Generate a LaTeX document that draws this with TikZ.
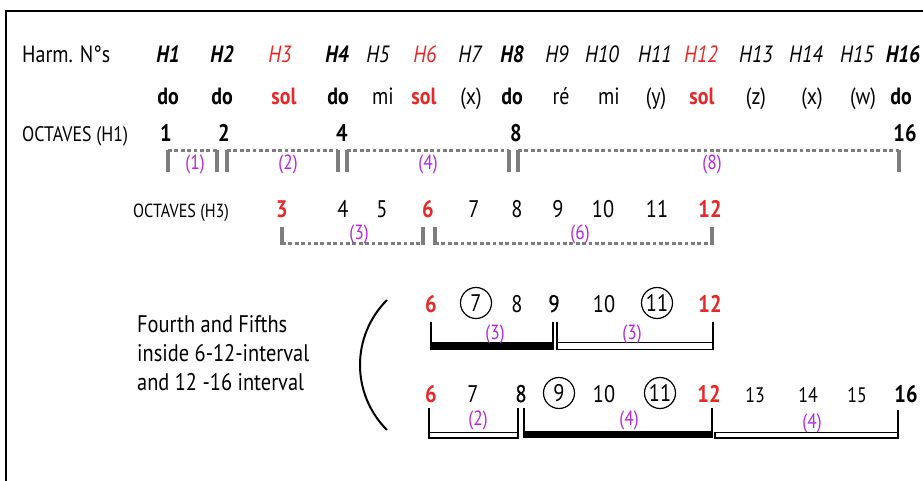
\documentclass[tikz,border=0pt]{standalone}
\usepackage{fontspec}
\setmainfont{PT Sans}[FakeStretch=0.85]
\newfontfamily\medfont{PT Sans}[FakeStretch=0.85,FakeBold=0.8]
\definecolor{hred}{RGB}{232,40,40}
\definecolor{hpurple}{RGB}{180,40,220}
\definecolor{hgray}{RGB}{125,125,125}
\begin{document}
\begin{tikzpicture}[x=1pt,y=-1pt,
  lbl/.style={inner sep=0pt,anchor=base},
  hn/.style={lbl,font=\fontsize{23.5}{28}\selectfont\itshape},
  hnb/.style={lbl,font=\fontsize{23.5}{28}\selectfont\bfseries\itshape},
  hnr/.style={hn,text=hred},
  sy/.style={lbl,font=\fontsize{23.5}{28}\selectfont},
  syb/.style={lbl,font=\fontsize{23.5}{28}\selectfont\bfseries},
  syr/.style={syb,text=hred},
  num/.style={lbl,font=\fontsize{24}{28}\selectfont},
  numb/.style={lbl,font=\fontsize{24}{28}\selectfont\bfseries},
  numr/.style={numb,text=hred},
  numm/.style={lbl,font=\fontsize{24}{28}\selectfont\medfont},
  nums/.style={lbl,font=\fontsize{21}{25}\selectfont},
  iv/.style={lbl,font=\fontsize{20.5}{24}\selectfont,text=hpurple},
  side/.style={inner sep=0pt,anchor=base west},
  circnum/.style={circle,draw,line width=1.2pt,minimum size=31pt,inner sep=0pt,font=\fontsize{24}{28}\selectfont},
  gtick/.style={hgray,line width=3.2pt},
  gdash/.style={hgray,line width=3pt,dash pattern=on 3.8pt off 2.6pt},
  btick/.style={black,line width=2pt},
  bbar/.style={fill=black,draw=none},
  dbar/.style={draw=black,line width=1.7pt,fill=white}
]
\useasboundingbox (0,0) rectangle (923,481);
\fill[white] (0,0) rectangle (923,481);
% frame
\draw[line width=1.6pt] (6,481) -- (6,11) -- (923,11);

% row 1
\node[side,font=\fontsize{23.5}{28}\selectfont] (harm) at (22,63) {Harm. N°s};
\node[hnb] (h1) at (168,63) {H1};
\node[hnb] (h2) at (222,63) {H2};
\node[hnr] (h3) at (280,63) {H3};
\node[hnb] (h4) at (337,63) {H4};
\node[hn]  (h5) at (378,63) {H5};
\node[hnr] (h6) at (425,63) {H6};
\node[hn]  (h7) at (470,63) {H7};
\node[hnb] (h8) at (512,63) {H8};
\node[hn]  (h9) at (557,63) {H9};
\node[hn]  (h10) at (602,63) {H10};
\node[hn]  (h11) at (655,63) {H11};
\node[hnr] (h12) at (701,63) {H12};
\node[hn]  (h13) at (756,63) {H13};
\node[hn]  (h14) at (806,63) {H14};
\node[hn]  (h15) at (857,63) {H15};
\node[hnb] (h16) at (903,63) {H16};

% row 2
\node[syb] (s1) at (168,105) {do};
\node[syb] (s2) at (222,105) {do};
\node[syr] (s3) at (284,105) {sol};
\node[syb] (s4) at (338,105) {do};
\node[sy]  (s5) at (383,105) {mi};
\node[syr] (s6) at (424,105) {sol};
\node[sy]  (s7) at (471,105) {(x)};
\node[syb] (s8) at (512,105) {do};
\node[sy]  (s9) at (561,105) {ré};
\node[sy]  (s10) at (609,105) {mi};
\node[sy]  (s11) at (656,105) {(y)};
\node[syr] (s12) at (702,105) {sol};
\node[sy]  (s13) at (756,105) {(z)};
\node[sy]  (s14) at (812,105) {(x)};
\node[sy]  (s15) at (863,105) {(w)};
\node[syb] (s16) at (901,105) {do};

% row 3
\node[side,font=\fontsize{21}{25}\selectfont] (oct1) at (22,142) {OCTAVES (H1)};
\node[numb] (o1) at (166,142) {1};
\node[numb] (o2) at (224,142) {2};
\node[numb] (o4) at (342,142) {4};
\node[numb] (o8) at (516,142) {8};
\node[numb] (o16) at (905,142) {16};

\foreach \a/\b in {168/217,227/338,347/509,518/899}{
  \draw[gdash] (\a,151) -- (\b,151);
  \draw[gtick] (\a,172) -- (\a,150);
  \draw[gtick] (\b,172) -- (\b,150);
}
\node[iv] (i1) at (195,169.5) {(1)};
\node[iv] (i2) at (288,169.5) {(2)};
\node[iv] (i4) at (428,169.5) {(4)};
\node[iv] (i8) at (712,169.5) {(8)};

% row 4
\node[side,font=\fontsize{19}{22}\selectfont] (oct3) at (133,217) {OCTAVES (H3)};
\node[numr] (p3) at (282,217) {3};
\node[num]  (p4) at (343,217) {4};
\node[num]  (p5) at (382,217) {5};
\node[numr] (p6) at (428,217) {6};
\node[num]  (p7) at (474,217) {7};
\node[num]  (p8) at (517,217) {8};
\node[num]  (p9) at (558,217) {9};
\node[num]  (p10) at (603,217) {10};
\node[num]  (p11) at (657,217) {11};
\node[numr] (p12) at (710,217) {12};

\foreach \a/\b in {282/423,435/712}{
  \draw[gdash] (\a,243) -- (\b,243);
  \draw[gtick] (\a,227) -- (\a,245);
  \draw[gtick] (\b,227) -- (\b,245);
}
\node[iv] (j3) at (359,239.5) {(3)};
\node[iv] (j6) at (580,239.5) {(6)};

% text block and arc
\node[side,font=\fontsize{24}{29}\selectfont] (ft1) at (137,332) {Fourth and Fifths};
\node[side,font=\fontsize{24}{29}\selectfont] (ft2) at (137,361) {inside 6-12-interval};
\node[side,font=\fontsize{24}{29}\selectfont] (ft3) at (137,390) {and 12 -16 interval};
\draw[line width=2pt] (387,300) .. controls (351,336) and (351,394) .. (387,430);

% row 5
\node[numr] (q6) at (431,312) {6};
\node[circnum] (q7) at (476,303) {7};
\node[num]  (q8) at (517,312) {8};
\node[numm] (q9) at (554,312) {9};
\node[num]  (q10) at (604,312) {10};
\node[circnum] (q11) at (657,303) {11};
\node[numr] (q12) at (710,312) {12};

\fill[bbar] (431,342) rectangle (553,350);
\draw[dbar] (557,342.5) rectangle (713,349.5);
\foreach \t in {431,553,557,713}{\draw[btick] (\t,322) -- (\t,350);}
\node[iv] (k1) at (495,339.5) {(3)};
\node[iv] (k2) at (632,339.5) {(3)};

% row 6
\node[numr] (r6) at (431,402) {6};
\node[num]  (r7) at (473,402) {7};
\node[numm] (r8) at (521,402) {8};
\node[circnum] (r9) at (559,393) {9};
\node[num]  (r10) at (604,402) {10};
\node[circnum] (r11) at (660,393) {11};
\node[numr] (r12) at (709,402) {12};
\node[nums] (r13) at (755,402) {13};
\node[nums] (r14) at (808,402) {14};
\node[nums] (r15) at (857,402) {15};
\node[numb] (r16) at (906,402) {16};

\draw[dbar] (429,432.5) rectangle (518,438);
\fill[bbar] (524,431) rectangle (712,438);
\draw[dbar] (715,432.5) rectangle (898,438);
\foreach \t in {429,518,524,712}{\draw[btick] (\t,408) -- (\t,438);}
\draw[btick] (898,410) -- (898,438);
\node[iv] (m1) at (478,425.5) {(2)};
\node[iv] (m2) at (629,425.5) {(4)};
\node[iv] (m3) at (812,428.5) {(4)};
\end{tikzpicture}
\end{document}
